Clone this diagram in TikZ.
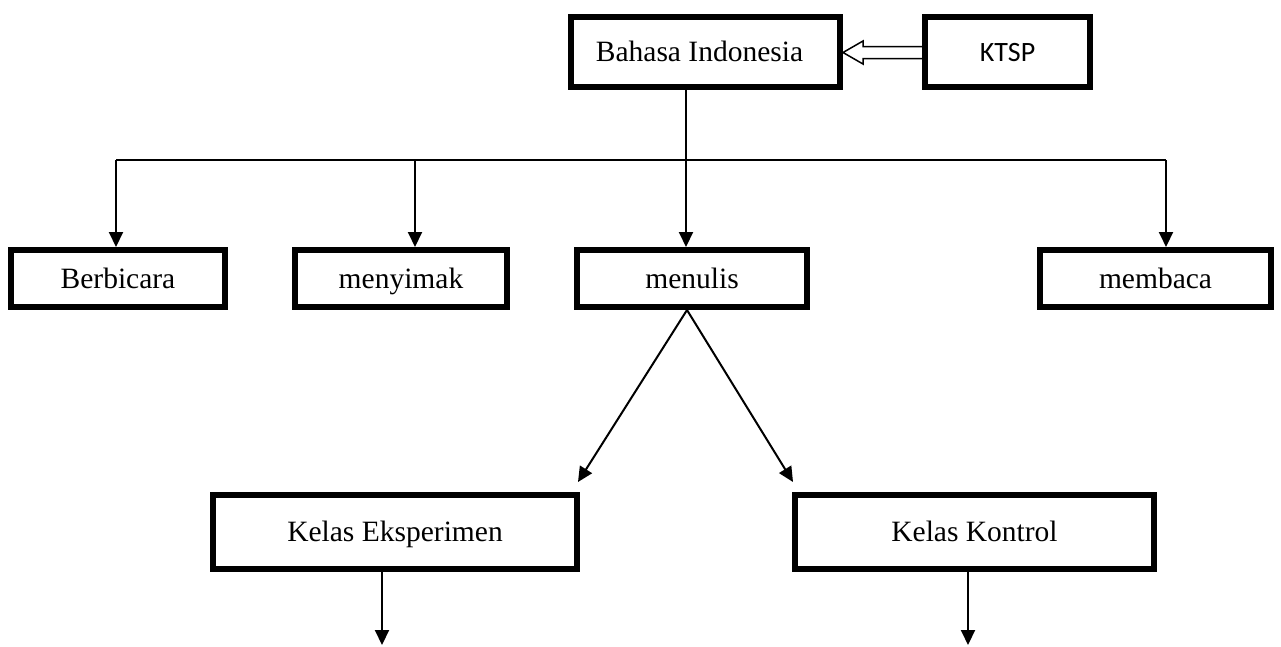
\documentclass[tikz,border=0pt]{standalone}
\usepackage{fontspec}
\setmainfont{Liberation Serif}
\newfontfamily\calib{Carlito}
\usetikzlibrary{arrows.meta,calc}
\tikzset{
  box/.style={draw, line width=6pt, rectangle, inner sep=0pt, text height=23pt, text depth=4pt, font=\fontsize{29.5}{35}\selectfont},
  conn/.style={line width=2pt, -{Triangle[width=14pt,length=15pt]}},
  plain/.style={line width=1.6pt},
}
\begin{document}
\begin{tikzpicture}[x=1pt,y=-1pt]
\useasboundingbox[fill=white] (0,0) rectangle (1281,646);
\node[box, minimum width=269pt, minimum height=70pt] (bi) at (705.5,52) {Bahasa Indonesia\hspace*{12pt}};
\node[box, minimum width=165pt, minimum height=70pt, font=\calib\fontsize{28}{33}\selectfont] (ktsp) at (1007.5,52) {KTSP};
\node[box, minimum width=214pt, minimum height=57pt] (ber) at (118,278.5) {Berbicara};
\node[box, minimum width=212pt, minimum height=57pt] (meny) at (401,278.5) {menyimak};
\node[box, minimum width=230pt, minimum height=57pt] (menu) at (692,278.5) {menulis};
\node[box, minimum width=231pt, minimum height=57pt] (memb) at (1155.5,278.5) {membaca};
\node[box, minimum width=364pt, minimum height=74pt] (ke) at (395,532) {Kelas Eksperimen};
\node[box, minimum width=359pt, minimum height=74pt] (kk) at (974.5,532) {Kelas Kontrol};
% block arrow KTSP -> Bahasa Indonesia
\draw[line width=1.5pt, line join=miter]
  ($(ktsp.west)+(0,-5.5)$) -- ($(bi.east)+(20,-5.5)$) -- ($(bi.east)+(20,-11)$)
  -- ($(bi.east)+(0,0.5)$) -- ($(bi.east)+(20,12)$) -- ($(bi.east)+(20,6.5)$)
  -- ($(ktsp.west)+(0,6.5)$);
% trunk
\coordinate (jb) at (116,160);
\coordinate (jm) at (415,160);
\coordinate (jc) at (686,160);
\coordinate (jr) at (1166,160);
\draw[plain] (jb) -- (jr);
\draw[conn] (bi.south -| jc) -- (menu.north -| jc);
\draw[conn] (jb) -- (ber.north -| jb);
\draw[conn] (jm) -- (meny.north -| jm);
\draw[conn] (jr) -- (memb.north -| jr);
% menulis to classes
\coordinate (tl) at ($(ke.north east)+(-2,-10)$);
\coordinate (tr) at ($(kk.north west)+(1,-10)$);
\draw[conn] ([xshift=-5pt]menu.south) -- (tl);
\draw[conn] ([xshift=-5pt]menu.south) -- (tr);
% bottom arrows
\coordinate (be) at (382,645);
\coordinate (bk) at (968,645);
\draw[conn] (ke.south -| be) -- (be);
\draw[conn] (kk.south -| bk) -- (bk);
\end{tikzpicture}
\end{document}
